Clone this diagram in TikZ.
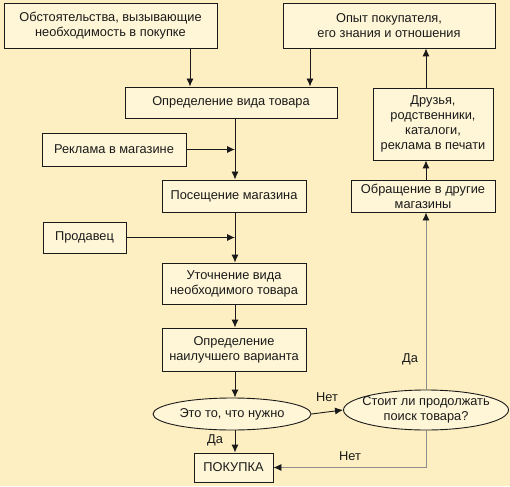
\documentclass[tikz,border=0pt]{standalone}
\usepackage{fontspec}
\setmainfont{Liberation Sans}
\usetikzlibrary{arrows.meta,shapes.geometric}
\definecolor{bg}{HTML}{FDEFC2}
\definecolor{boxfill}{HTML}{FEF6D6}
\definecolor{ink}{HTML}{1A1A1A}
\definecolor{grayline}{HTML}{8C8C8C}
\tikzset{
  blk/.style={draw=ink, line width=0.9pt, fill=boxfill, inner sep=0pt, align=center,
    font=\fontsize{12.8}{15}\selectfont, text=ink},
  oval/.style={blk, ellipse},
  arr/.style={draw=ink, line width=0.9pt, -{Latex[length=8pt,width=7pt]}},
  garr/.style={draw=grayline, line width=0.9pt, -{Latex[length=8pt,width=7pt,color=ink]}},
  lbl/.style={font=\fontsize{12.8}{15}\selectfont, text=ink, inner sep=0pt}
}
\begin{document}
\begin{tikzpicture}[x=1pt,y=-1pt]
\fill[bg] (0,0) rectangle (510,486);
\useasboundingbox (0,0) rectangle (510,486);

\node[blk, minimum width=213pt, minimum height=45pt] (obst) at (110.5,25.5) {Обстоятельства, вызывающие\\необходимость в покупке};
\node[blk, minimum width=212pt, minimum height=45pt] (opyt) at (389,25.5) {Опыт покупателя,\\его знания и отношения};
\node[blk, minimum width=212pt, minimum height=31pt] (vid) at (231,102.5) {Определение вида товара};
\node[blk, minimum width=120pt, minimum height=72pt] (druz) at (433,124) {Друзья,\\родственники,\\каталоги,\\реклама в печати};
\node[blk, minimum width=144pt, minimum height=33pt] (rekl) at (114,149.5) {Реклама в магазине};
\node[blk, minimum width=144pt, minimum height=32pt] (pos) at (234,196) {Посещение магазина};
\node[blk, minimum width=144pt, minimum height=32pt] (obr) at (423,196) {Обращение в другие\\магазины};
\node[blk, minimum width=83pt, minimum height=31pt] (prod) at (84.5,237.5) {Продавец};
\node[blk, minimum width=144pt, minimum height=41pt] (utoch) at (234,283.5) {Уточнение вида\\необходимого товара};
\node[blk, minimum width=144pt, minimum height=43pt] (nail) at (234,349.5) {Определение\\наилучшего варианта};
\node[oval, minimum width=158pt, minimum height=32pt, inner xsep=-4pt, inner ysep=-2pt] (eto) at (232,414) {Это то, что нужно};
\node[oval, minimum width=165pt, minimum height=40pt, inner xsep=-8pt, inner ysep=-2pt] (stoit) at (426,410) {Стоит ли продолжать\\поиск товара?};
\node[blk, minimum width=79pt, minimum height=29pt] (pok) at (233.5,467.5) {ПОКУПКА};

\node[lbl] (net1) at (327,397) {Нет};
\node[lbl] (da1) at (215,440) {Да};
\node[lbl] (net2) at (350,456) {Нет};
\node[lbl] (da2) at (410,359) {Да};

\coordinate (xa) at (190,0);
\coordinate (xb) at (310,0);
\coordinate (mx) at (235,0);
\coordinate (rx) at (426,0);

\draw[arr] (obst.south -| xa) -- (vid.north -| xa);
\draw[arr] (opyt.south -| xb) -- (vid.north -| xb);
\draw[arr] (vid.south -| mx) -- (pos.north -| mx);
\draw[arr] (rekl.east) -- (rekl.east -| mx);
\draw[arr] (pos.south -| mx) -- (utoch.north -| mx);
\draw[arr] (prod.east) -- (prod.east -| mx);
\draw[arr] (utoch.south -| mx) -- (nail.north -| mx);
\draw[arr] (nail.south -| mx) -- (eto.north -| mx);
\draw[arr] (eto.south -| mx) -- (pok.north -| mx);
\draw[arr] (eto.east) -- (stoit.west);
\draw[garr] (stoit.south) |- (pok.east);
\draw[garr] (stoit.north -| rx) -- (obr.south -| rx);
\draw[arr] (obr.north -| rx) -- (druz.south -| rx);
\draw[arr] (druz.north -| rx) -- (opyt.south -| rx);
\end{tikzpicture}
\end{document}
